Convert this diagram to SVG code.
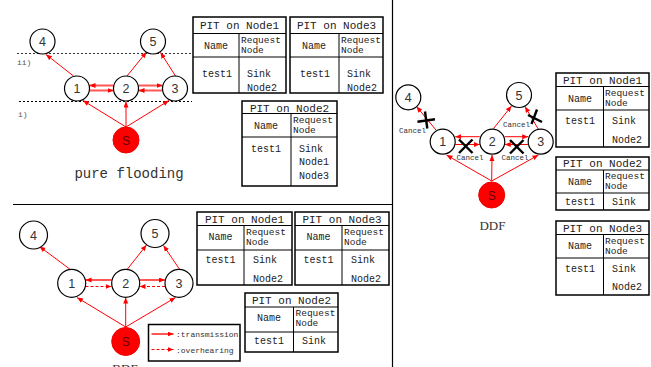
<svg xmlns="http://www.w3.org/2000/svg" width="651" height="367" viewBox="0 0 651 367">
  <defs>
    <marker id="ah" markerUnits="userSpaceOnUse" markerWidth="7" markerHeight="6" refX="6" refY="2.5" orient="auto">
      <path d="M0,0 L6,2.5 L0,5 z" fill="#f00"/>
    </marker>
    <style>
      .bg { fill: #fff; }
      .sep { stroke: #000; stroke-width: 1.2; fill: none; }
      .lvl { stroke: #333; stroke-width: 1; stroke-dasharray: 2 2; fill: none; }
      .lvlt { font-family: "Liberation Mono", monospace; font-size: 8px; fill: #555; }
      .node circle { fill: #fff; stroke: #000; stroke-width: 1.2; }
      .node text { font-family: "Liberation Sans", Arial, sans-serif; font-size: 12.5px; fill: #333; text-anchor: middle; }
      .sink circle { fill: #f00; stroke: #e00; stroke-width: 1; }
      .sink text { font-family: "Liberation Sans", Arial, sans-serif; font-size: 12px; fill: #600; text-anchor: middle; }
      .e { stroke: #f00; stroke-width: 1; fill: none; marker-end: url(#ah); }
      .tx { stroke: #ff5656; stroke-width: 2; fill: none; marker-end: url(#ah); }
      .ov { stroke: #f00; stroke-width: 1; stroke-dasharray: 3 2; fill: none; marker-end: url(#ah); }
      .x { stroke: #000; stroke-width: 2.4; fill: none; }
      .cn { font-family: "Liberation Mono", monospace; font-size: 7.5px; fill: #333; }
      .cap { font-family: "Liberation Mono", monospace; font-size: 14px; fill: #333; text-anchor: middle; }
      .capS { font-family: "Liberation Serif", "Times New Roman", serif; font-size: 13px; fill: #333; text-anchor: middle; }
      .pit rect { fill: #fff; stroke: #000; stroke-width: 1.5; }
      .pit line { stroke: #000; stroke-width: 1; }
      .pit text { font-family: "Liberation Mono", monospace; font-size: 10px; fill: #222; }
      .pit .ttl { font-size: 11px; text-anchor: middle; }
      .pit .c { text-anchor: middle; }
      .pit .h { font-size: 9.5px; }
      .leg rect { fill: #fff; stroke: #000; stroke-width: 1.5; }
      .leg text { font-family: "Liberation Mono", monospace; font-size: 8px; fill: #333; }
    </style>
  </defs>

  <rect class="bg" x="0" y="0" width="651" height="367"/>

  <!-- panel separators -->
  <line class="sep" x1="13" y1="204.5" x2="392" y2="204.5"/>
  <line class="sep" x1="392.5" y1="0" x2="392.5" y2="367"/>

  <!-- ===== pure flooding ===== -->
  <line class="lvl" x1="17" y1="53.5" x2="191" y2="53.5"/>
  <line class="lvl" x1="19" y1="101.5" x2="192" y2="101.5" style="stroke:#000"/>
  <text class="lvlt" x="17" y="65">ii)</text>
  <text class="lvlt" x="18" y="117">i)</text>

  <g id="pf-connectors">
    <line class="e" x1="126" y1="127" x2="83" y2="100.5"/>
    <line class="e" x1="126" y1="127" x2="126" y2="101.5"/>
    <line class="e" x1="126" y1="127" x2="169" y2="100.5"/>
    <line class="e" x1="73.5" y1="76" x2="46" y2="54.5"/>
    <line class="e" x1="127" y1="76" x2="146.5" y2="52"/>
    <line class="e" x1="175.5" y1="76" x2="160.5" y2="52.5"/>
    <line class="tx" x1="113.5" y1="85.5" x2="89.5" y2="85.5"/>
    <line class="tx" x1="89.5" y1="90.5" x2="113.5" y2="90.5"/>
    <line class="tx" x1="138.5" y1="85.5" x2="162.5" y2="85.5"/>
    <line class="tx" x1="162.5" y1="90.5" x2="138.5" y2="90.5"/>
  </g>

  <g id="pf-n4" class="node"><circle cx="42.5" cy="41.5" r="12.5"/><text x="42.5" y="46">4</text></g>
  <g id="pf-n5" class="node"><circle cx="153" cy="41.5" r="12.5"/><text x="153" y="46">5</text></g>
  <g id="pf-n1" class="node"><circle cx="77" cy="88.5" r="12.5"/><text x="77" y="93">1</text></g>
  <g id="pf-n2" class="node"><circle cx="126" cy="88.5" r="12.5"/><text x="126" y="93">2</text></g>
  <g id="pf-n3" class="node"><circle cx="175" cy="88.5" r="12.5"/><text x="175" y="93">3</text></g>
  <g id="pf-s" class="sink"><circle cx="126" cy="140" r="13"/><text x="126" y="144.5">S</text></g>

  <text class="cap" x="129" y="178">pure flooding</text>

  <!-- PIT tables, pure flooding -->
  <g id="pf-pit1" class="pit">
    <rect x="193" y="17" width="93" height="76"/>
    <line x1="193" y1="33.5" x2="286" y2="33.5"/>
    <line x1="193" y1="57" x2="286" y2="57"/>
    <line x1="239" y1="33.5" x2="239" y2="93"/>
    <text class="ttl" x="239.5" y="29">PIT on Node1</text>
    <text class="c" x="216" y="48.5">Name</text>
    <text class="h" x="241" y="43">Request</text>
    <text class="h" x="241" y="53">Node</text>
    <text class="c" x="217" y="76.5">test1</text>
    <text x="247" y="76.5">Sink</text>
    <text x="247" y="90.5">Node2</text>
  </g>
  <g id="pf-pit3" class="pit">
    <rect x="290" y="17" width="93" height="76"/>
    <line x1="290" y1="33.5" x2="383" y2="33.5"/>
    <line x1="290" y1="57" x2="383" y2="57"/>
    <line x1="339" y1="33.5" x2="339" y2="93"/>
    <text class="ttl" x="336.5" y="29">PIT on Node3</text>
    <text class="c" x="314" y="48.5">Name</text>
    <text class="h" x="341" y="43">Request</text>
    <text class="h" x="341" y="53">Node</text>
    <text class="c" x="315" y="76.5">test1</text>
    <text x="347" y="76.5">Sink</text>
    <text x="347" y="90.5">Node2</text>
  </g>
  <g id="pf-pit2" class="pit">
    <rect x="242" y="101" width="95" height="85"/>
    <line x1="242" y1="113.5" x2="337" y2="113.5"/>
    <line x1="242" y1="137" x2="337" y2="137"/>
    <line x1="291" y1="113.5" x2="291" y2="186"/>
    <text class="ttl" x="289.5" y="111.5">PIT on Node2</text>
    <text class="c" x="266" y="129">Name</text>
    <text class="h" x="293" y="123">Request</text>
    <text class="h" x="293" y="133">Node</text>
    <text class="c" x="266" y="152">test1</text>
    <text x="299" y="152">Sink</text>
    <text x="299" y="165">Node1</text>
    <text x="299" y="178.5">Node3</text>
  </g>

  <!-- ===== BDF ===== -->
  <g id="bdf-connectors">
    <line class="e" x1="125.7" y1="327" x2="77" y2="297.5"/>
    <line class="e" x1="125.7" y1="327" x2="125.7" y2="297.5"/>
    <line class="e" x1="125.7" y1="327" x2="175.5" y2="297.5"/>
    <line class="e" x1="71" y1="270" x2="39.5" y2="246.5"/>
    <line class="e" x1="126.7" y1="270" x2="146.5" y2="245"/>
    <line class="e" x1="180" y1="270" x2="163.5" y2="245.5"/>
    <line class="tx" x1="111.5" y1="280" x2="85.5" y2="280"/>
    <line class="ov" x1="85.5" y1="286.5" x2="111.5" y2="286.5"/>
    <line class="tx" x1="139.5" y1="280" x2="165" y2="280"/>
    <line class="ov" x1="165" y1="286.5" x2="139.5" y2="286.5"/>
  </g>

  <g id="bdf-n4" class="node"><circle cx="33.5" cy="235" r="14"/><text x="33.5" y="239.5">4</text></g>
  <g id="bdf-n5" class="node"><circle cx="155" cy="233.5" r="14"/><text x="155" y="238">5</text></g>
  <g id="bdf-n1" class="node"><circle cx="71.7" cy="283.3" r="14"/><text x="71.7" y="287.8">1</text></g>
  <g id="bdf-n2" class="node"><circle cx="125.7" cy="283.3" r="14"/><text x="125.7" y="287.8">2</text></g>
  <g id="bdf-n3" class="node"><circle cx="179" cy="283.3" r="14"/><text x="179" y="287.8">3</text></g>
  <g id="bdf-s" class="sink"><circle cx="125.7" cy="341.5" r="14"/><text x="125.7" y="346">S</text></g>

  <!-- caption runs past the lower edge of the page -->
  <text class="capS" x="125" y="373">BDF</text>

  <g id="bdf-legend" class="leg">
    <rect x="148.5" y="324.5" width="91.5" height="36.5"/>
    <line class="tx" x1="151.5" y1="334" x2="173.5" y2="334"/>
    <text x="176" y="337">:transmission</text>
    <line class="ov" x1="151.5" y1="349.5" x2="173.5" y2="349.5"/>
    <text x="176" y="352.5">:overhearing</text>
  </g>

  <g id="bdf-pit1" class="pit">
    <rect x="197" y="212" width="95" height="73"/>
    <line x1="197" y1="225.5" x2="292" y2="225.5"/>
    <line x1="197" y1="250" x2="292" y2="250"/>
    <line x1="244" y1="225.5" x2="244" y2="285"/>
    <text class="ttl" x="244.5" y="222.5">PIT on Node1</text>
    <text class="c" x="220.5" y="240">Name</text>
    <text class="h" x="246" y="235">Request</text>
    <text class="h" x="246" y="245">Node</text>
    <text class="c" x="220.5" y="262.5">test1</text>
    <text x="253" y="262.5">Sink</text>
    <text x="253" y="281.5">Node2</text>
  </g>
  <g id="bdf-pit3" class="pit">
    <rect x="295" y="212" width="94" height="73"/>
    <line x1="295" y1="225.5" x2="389" y2="225.5"/>
    <line x1="295" y1="250" x2="389" y2="250"/>
    <line x1="342" y1="225.5" x2="342" y2="285"/>
    <text class="ttl" x="342" y="222.5">PIT on Node3</text>
    <text class="c" x="318.5" y="240">Name</text>
    <text class="h" x="344" y="235">Request</text>
    <text class="h" x="344" y="245">Node</text>
    <text class="c" x="318.5" y="262.5">test1</text>
    <text x="351" y="262.5">Sink</text>
    <text x="351" y="281.5">Node2</text>
  </g>
  <g id="bdf-pit2" class="pit">
    <rect x="245" y="293" width="93" height="59"/>
    <line x1="245" y1="307" x2="338" y2="307"/>
    <line x1="245" y1="332" x2="338" y2="332"/>
    <line x1="293.5" y1="307" x2="293.5" y2="352"/>
    <text class="ttl" x="291.5" y="304">PIT on Node2</text>
    <text class="c" x="269" y="321">Name</text>
    <text class="h" x="295.5" y="316">Request</text>
    <text class="h" x="295.5" y="326">Node</text>
    <text class="c" x="269" y="344">test1</text>
    <text x="302" y="344">Sink</text>
  </g>

  <!-- ===== DDF ===== -->
  <g id="ddf-connectors">
    <line class="e" x1="491.7" y1="181" x2="446.5" y2="155"/>
    <line class="e" x1="491.7" y1="181" x2="492" y2="155"/>
    <line class="e" x1="491.7" y1="181" x2="538.5" y2="155"/>
    <line class="e" x1="436" y1="130" x2="416.5" y2="106.5"/>
    <line class="e" x1="493.5" y1="128.5" x2="511.5" y2="106"/>
    <line class="e" x1="538.5" y1="129.5" x2="525" y2="106.5"/>
    <line class="e" x1="479.8" y1="136.7" x2="455.2" y2="136.7"/>
    <line class="e" x1="455.2" y1="144.5" x2="479.8" y2="144.5"/>
    <line class="e" x1="504.8" y1="136.7" x2="528.2" y2="136.7"/>
    <line class="e" x1="528.2" y1="144.5" x2="504.8" y2="144.5"/>
  </g>

  <g id="ddf-cancel">
    <line class="x" x1="417.5" y1="121.7" x2="435" y2="119.3"/>
    <line class="x" x1="425" y1="111.5" x2="427.3" y2="128.5"/>
    <line class="x" x1="528" y1="115" x2="542" y2="122"/>
    <line class="x" x1="537" y1="109.5" x2="531.5" y2="124"/>
    <line class="x" x1="459" y1="139.5" x2="472.5" y2="153"/>
    <line class="x" x1="472.5" y1="139.5" x2="459" y2="153"/>
    <line class="x" x1="510" y1="140" x2="523.5" y2="153.5"/>
    <line class="x" x1="523.5" y1="140" x2="510" y2="153.5"/>
    <text class="cn" x="399" y="133">Cancel</text>
    <text class="cn" x="503" y="127">Cancel</text>
    <text class="cn" x="470" y="160" text-anchor="middle">Cancel</text>
    <text class="cn" x="515" y="160" text-anchor="middle">Cancel</text>
  </g>

  <g id="ddf-n4" class="node"><circle cx="408.3" cy="97.3" r="12.5"/><text x="408.3" y="101.8">4</text></g>
  <g id="ddf-n5" class="node"><circle cx="519" cy="95" r="12.5"/><text x="519" y="99.5">5</text></g>
  <g id="ddf-n1" class="node"><circle cx="442.7" cy="141.7" r="12.5"/><text x="442.7" y="146.2">1</text></g>
  <g id="ddf-n2" class="node"><circle cx="492.3" cy="141.7" r="12.5"/><text x="492.3" y="146.2">2</text></g>
  <g id="ddf-n3" class="node"><circle cx="540.7" cy="141.7" r="12.5"/><text x="540.7" y="146.2">3</text></g>
  <g id="ddf-s" class="sink"><circle cx="491.7" cy="195" r="13"/><text x="491.7" y="199.5">S</text></g>

  <text class="capS" x="492.5" y="230">DDF</text>

  <g id="ddf-pit1" class="pit">
    <rect x="556" y="73" width="93" height="74"/>
    <line x1="556" y1="86.5" x2="649" y2="86.5"/>
    <line x1="556" y1="110" x2="649" y2="110"/>
    <line x1="603.5" y1="86.5" x2="603.5" y2="147"/>
    <text class="ttl" x="602.5" y="84">PIT on Node1</text>
    <text class="c" x="580" y="101.5">Name</text>
    <text class="h" x="605" y="96">Request</text>
    <text class="h" x="605" y="106">Node</text>
    <text class="c" x="580" y="124">test1</text>
    <text x="612" y="124">Sink</text>
    <text x="612" y="142.5">Node2</text>
  </g>
  <g id="ddf-pit2" class="pit">
    <rect x="556" y="157" width="93" height="53"/>
    <line x1="556" y1="170" x2="649" y2="170"/>
    <line x1="556" y1="193" x2="649" y2="193"/>
    <line x1="603.5" y1="170" x2="603.5" y2="210"/>
    <text class="ttl" x="602.5" y="167">PIT on Node2</text>
    <text class="c" x="580" y="184.5">Name</text>
    <text class="h" x="605" y="179">Request</text>
    <text class="h" x="605" y="189">Node</text>
    <text class="c" x="580" y="205">test1</text>
    <text x="612" y="205">Sink</text>
  </g>
  <g id="ddf-pit3" class="pit">
    <rect x="556" y="221" width="93" height="74"/>
    <line x1="556" y1="234.5" x2="649" y2="234.5"/>
    <line x1="556" y1="258" x2="649" y2="258"/>
    <line x1="603.5" y1="234.5" x2="603.5" y2="295"/>
    <text class="ttl" x="602.5" y="231.5">PIT on Node3</text>
    <text class="c" x="580" y="249">Name</text>
    <text class="h" x="605" y="244">Request</text>
    <text class="h" x="605" y="254">Node</text>
    <text class="c" x="580" y="271.5">test1</text>
    <text x="612" y="271.5">Sink</text>
    <text x="612" y="290">Node2</text>
  </g>
</svg>
